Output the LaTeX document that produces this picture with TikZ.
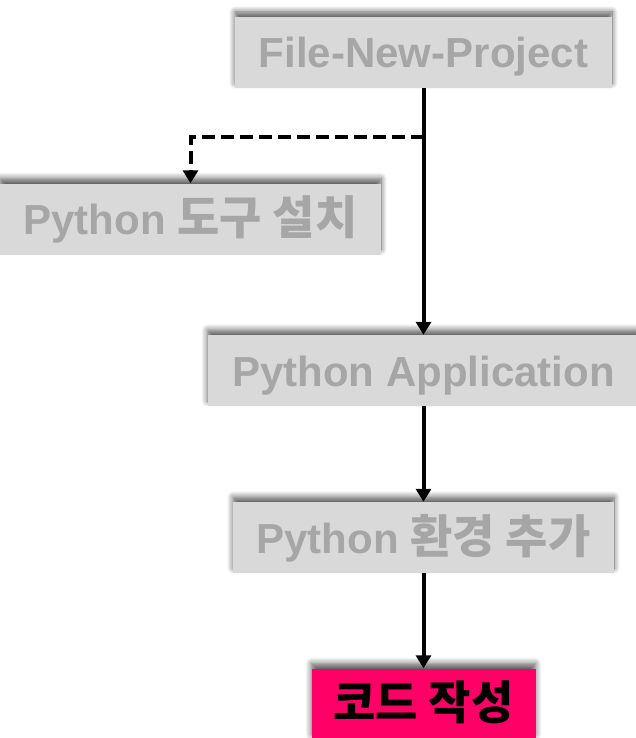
\documentclass[tikz,border=0pt]{standalone}
\usepackage{fontspec}
\setmainfont{Liberation Sans}
\newfontfamily\krfont{Noto Sans CJK KR}
\newcommand\kr[1]{{\krfont\bfseries\fontsize{46}{50}\selectfont #1}}
\usetikzlibrary{arrows.meta, positioning, shadows.blur}

\definecolor{stepgray}{HTML}{D9D9D9}
\definecolor{steptext}{HTML}{A6A6A6}
\definecolor{steppink}{HTML}{FF0066}

\tikzset{
  stepbox/.style={fill=stepgray, text=steptext, font=\fontsize{42}{48}\selectfont\bfseries,
    minimum height=71pt, inner sep=0pt, text height=31pt, text depth=0pt,
    blur shadow={shadow xshift=0pt, shadow yshift=5pt, shadow blur radius=6pt,
      shadow blur steps=8, shadow opacity=65}},
  donebox/.style={stepbox, fill=steppink, text=black},
  flow/.style={line width=4pt, -{Triangle[length=13pt, width=15pt]}},
}

\begin{document}
\begin{tikzpicture}[x=1pt, y=-1pt]
  \useasboundingbox (0,0) rectangle (636,738);

  % the steps, top to bottom
  \node[stepbox, minimum width=377pt] (project) at (423.5, 52.5) {File-New-Project};
  \node[stepbox, minimum width=381pt] (tools) at (190.5, 219) {Python \kr{도구 설치}};
  \node[stepbox, minimum width=432pt] (app) at (423.5, 370.5) {Python Application};
  \node[stepbox, minimum width=381pt] (env) at (423.5, 537.5) {Python \kr{환경 추가}};
  \node[donebox, minimum width=224pt] (code) at (423.5, 704) {\kr{코드 작성}};

  % optional branch off the main line
  \coordinate (split) at ([yshift=-49pt]project.south);
  \draw[flow] (project.south) -- (app.north);
  \draw[flow, dash pattern=on 13pt off 6pt] (split) -| (tools.north);
  \draw[flow] (app.south) -- (env.north);
  \draw[flow] (env.south) -- (code.north);
\end{tikzpicture}
\end{document}
